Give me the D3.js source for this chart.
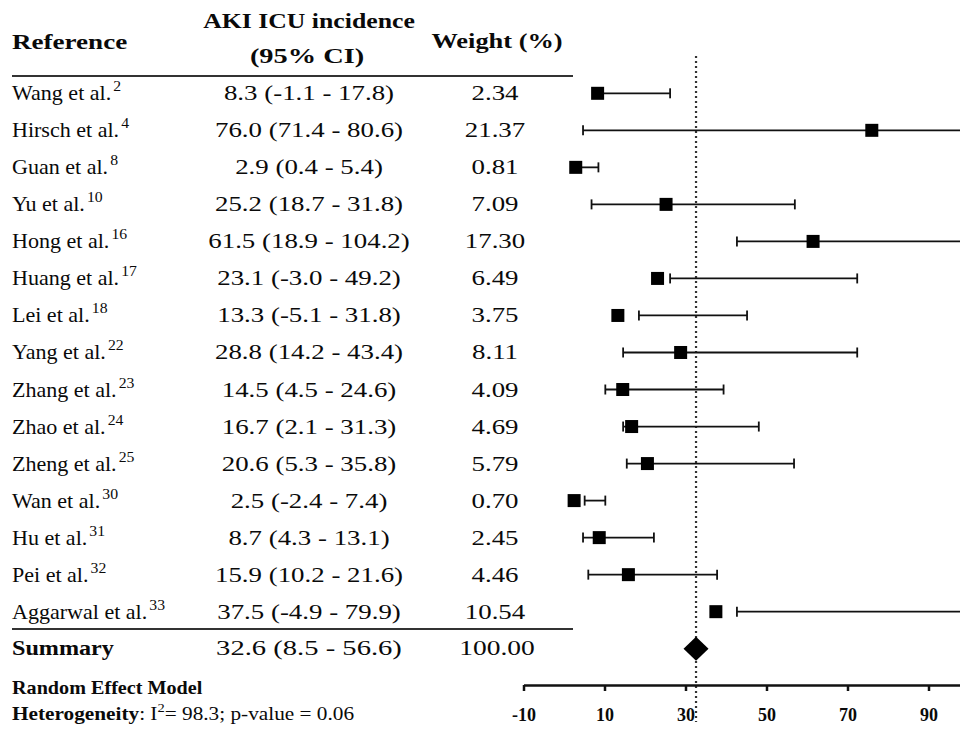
<!DOCTYPE html>
<html>
<head>
<meta charset="utf-8">
<script src="https://cdn.jsdelivr.net/npm/d3@7"></script>
<style>
  body { margin: 0; background: #fff; }
  svg { display: block; font-family: "Liberation Serif", "Times New Roman", serif; }
  text { fill: #0a0a0a; }
</style>
</head>
<body>
<div id="chart"></div>
<script>
// ----------------------------------------------------------------------------------------------------
// FOREST PLOT - AKI ICU INCIDENCE
// ----------------------------------------------------------------------------------------------------

var studies = ["Wang et al.", "Hirsch et al.", "Guan et al.", "Yu et al.", "Hong et al.", "Huang et al.",
    "Lei et al.", "Yang et al.", "Zhang et al.", "Zhao et al.", "Zheng et al.", "Wan et al.", "Hu et al.",
    "Pei et al.", "Aggarwal et al."];
var refNums = ["2", "4", "8", "10", "16", "17", "18", "22", "23", "24", "25", "30", "31", "32", "33"];
var ciLabels = ["8.3 (-1.1 - 17.8)", "76.0 (71.4 - 80.6)", "2.9 (0.4 - 5.4)", "25.2 (18.7 - 31.8)",
    "61.5 (18.9 - 104.2)", "23.1 (-3.0 - 49.2)", "13.3 (-5.1 - 31.8)", "28.8 (14.2 - 43.4)",
    "14.5 (4.5 - 24.6)", "16.7 (2.1 - 31.3)", "20.6 (5.3 - 35.8)", "2.5 (-2.4 - 7.4)",
    "8.7 (4.3 - 13.1)", "15.9 (10.2 - 21.6)", "37.5 (-4.9 - 79.9)"];
var weights = ["2.34", "21.37", "0.81", "7.09", "17.30", "6.49", "3.75", "8.11", "4.09", "4.69",
    "5.79", "0.70", "2.45", "4.46", "10.54"];
var estimates = [8.3, 76.0, 2.9, 25.2, 61.5, 23.1, 13.3, 28.8, 14.5, 16.7, 20.6, 2.5, 8.7, 15.9, 37.5];
// whisker ends as they are drawn in the plot (read off the figure, not the printed CIs)
var barLow = [8.3, 4.7, 2.9, 6.8, 42.7, 26.2, 18.5, 14.6, 10.2, 14.6, 15.5, 5.1, 4.7, 6.0, 42.7];
var barHigh = [26.2, 110, 8.5, 57.0, 110, 72.4, 45.2, 72.4, 39.4, 48.1, 56.8, 10.2, 22.2, 37.8, 110];

var summaryLabel = "Summary";
var summaryCI = "32.6 (8.5 - 56.6)";
var summaryWeight = "100.00";
var summaryValue = 32.6;

var xTicks = [-10, 10, 30, 50, 70, 90];

function forest_Draw(ele) {
    ele = "#" + ele;
    var w = 960, h = 735;

    var svg = d3.select(ele)
        .append("svg")
        .attr("width", w)
        .attr("height", h);

    // Scales
    var x = d3.scaleLinear().domain([-10, 90]).range([523.5, 928.5]);
    var y = d3.scalePoint().domain(studies.concat([summaryLabel])).range([93.3, 648.7]);

    var colName = 12, colCI = 309, colW = 495;

    function label(str, px, py, opts) {
        var t = svg.append("text")
            .attr("transform", "translate(" + px + "," + py + ") scale(" + (opts.sx || 1) + ",1)")
            .attr("text-anchor", opts.anchor || "start")
            .attr("font-size", opts.size + "px")
            .attr("font-weight", opts.bold ? "bold" : "normal");
        if (str !== null) t.text(str);
        return t;
    }

    // Header
    label("Reference", colName, 49, {size: 22, bold: true, sx: 1.23});
    label("AKI ICU incidence", 309, 28, {size: 22, bold: true, sx: 1.17, anchor: "middle"});
    label("(95% CI)", 307, 63, {size: 22, bold: true, sx: 1.29, anchor: "middle"});
    label("Weight (%)", 497, 48, {size: 22, bold: true, sx: 1.2, anchor: "middle"});

    svg.append("line")
        .attr("x1", 12).attr("x2", 573)
        .attr("y1", 76).attr("y2", 76)
        .attr("stroke", "#333").attr("stroke-width", 2);

    // Study rows
    studies.forEach(function(s, i) {
        var t = label(null, colName, y(s) + 7, {size: 21, sx: 1.05});
        t.append("tspan").text(s);
        t.append("tspan").attr("dx", 2).attr("dy", -9).attr("font-size", "15px").text(refNums[i]);
        label(ciLabels[i], colCI, y(s) + 7, {size: 21, sx: 1.28, anchor: "middle"});
        label(weights[i], colW, y(s) + 7, {size: 21, sx: 1.28, anchor: "middle"});
    });

    // Summary row
    svg.append("line")
        .attr("x1", 12).attr("x2", 573)
        .attr("y1", 629).attr("y2", 629)
        .attr("stroke", "#333").attr("stroke-width", 2);
    label(summaryLabel, colName, y(summaryLabel) + 6, {size: 21, bold: true, sx: 1.15});
    label(summaryCI, colCI, y(summaryLabel) + 6, {size: 22, sx: 1.3, anchor: "middle"});
    label(summaryWeight, 497, y(summaryLabel) + 6, {size: 22, sx: 1.25, anchor: "middle"});

    // Footnotes
    label("Random Effect Model", colName, 694, {size: 18, bold: true, sx: 1.12});
    var het = label(null, colName, 720, {size: 19, sx: 1.12});
    het.append("tspan").attr("font-weight", "bold").text("Heterogeneity");
    het.append("tspan").text(": I");
    het.append("tspan").attr("dy", -8).attr("font-size", "13px").text("2");
    het.append("tspan").attr("dy", 8).text("= 98.3; p-value = 0.06");

    // Reference line at the pooled estimate
    svg.append("line")
        .attr("x1", x(summaryValue)).attr("x2", x(summaryValue))
        .attr("y1", 56).attr("y2", 722)
        .attr("stroke", "#333")
        .attr("stroke-width", 2.2)
        .attr("stroke-dasharray", "2,3");

    // Whiskers
    var plot = svg.append("g");
    plot.selectAll(".ci")
        .data(studies)
        .enter()
        .append("line")
        .attr("class", "ci")
        .attr("x1", function(d, i) { return x(barLow[i]); })
        .attr("x2", function(d, i) { return x(barHigh[i]); })
        .attr("y1", function(d) { return y(d); })
        .attr("y2", function(d) { return y(d); })
        .attr("stroke", "#111")
        .attr("stroke-width", 1.8);

    ["low", "high"].forEach(function(side) {
        var arr = side === "low" ? barLow : barHigh;
        plot.selectAll(".cap-" + side)
            .data(studies)
            .enter()
            .append("line")
            .attr("class", "cap-" + side)
            .attr("x1", function(d, i) { return x(arr[i]); })
            .attr("x2", function(d, i) { return x(arr[i]); })
            .attr("y1", function(d) { return y(d) - 5; })
            .attr("y2", function(d) { return y(d) + 5; })
            .attr("stroke", "#111")
            .attr("stroke-width", 1.8);
    });

    // Point estimates
    var sq = 13;
    plot.selectAll(".pt")
        .data(studies)
        .enter()
        .append("rect")
        .attr("class", "pt")
        .attr("x", function(d, i) { return x(estimates[i]) - sq / 2; })
        .attr("y", function(d) { return y(d) - sq / 2; })
        .attr("width", sq)
        .attr("height", sq)
        .attr("fill", "#000");

    // Summary diamond
    var cx = x(summaryValue), cy = y(summaryLabel);
    svg.append("path")
        .attr("d", "M" + (cx - 12.5) + "," + cy + "L" + cx + "," + (cy - 12) +
            "L" + (cx + 12.5) + "," + cy + "L" + cx + "," + (cy + 12) + "Z")
        .attr("fill", "#000");

    // Axis
    var axis = svg.append("g")
        .attr("transform", "translate(0,685)")
        .call(d3.axisBottom(d3.scaleLinear().domain([-10, 100]).range([523.5, 969]))
            .tickValues(xTicks).tickSize(6).tickSizeOuter(0)
            .tickFormat(function(d) { return String(d); }));
    axis.select(".domain").attr("stroke", "#111").attr("stroke-width", 2.5);
    axis.selectAll(".tick line").attr("stroke", "#111").attr("stroke-width", 2.5);
    axis.selectAll(".tick text")
        .attr("y", 20)
        .attr("dy", "0.9em")
        .attr("font-family", "Liberation Serif, serif")
        .attr("font-size", "18px")
        .attr("font-weight", "bold")
        .attr("fill", "#111");
}

forest_Draw("chart");
</script>
</body>
</html>
